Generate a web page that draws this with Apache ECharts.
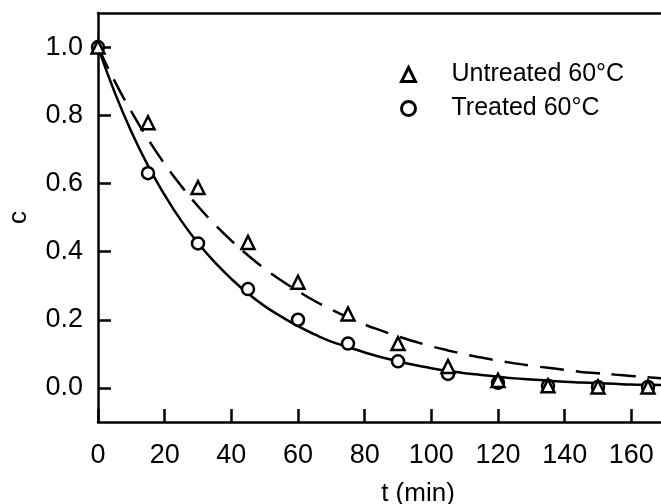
<!DOCTYPE html>
<html>
<head>
<meta charset="utf-8">
<script src="https://cdn.jsdelivr.net/npm/echarts@6/dist/echarts.min.js"></script>
<style>
  html, body { margin: 0; padding: 0; background: #fff; }
  #chart { width: 661px; height: 504px; }
</style>
</head>
<body>
<div id="chart"></div>
<script>
// measured points
var tPoints = [0, 15, 30, 45, 60, 75, 90, 105, 120, 135, 150, 165];
var untreated = [1.0, 0.778, 0.588, 0.427, 0.31, 0.217, 0.13, 0.063, 0.022, 0.006, 0.003, 0.003];
var treated = [1.0, 0.63, 0.424, 0.29, 0.2, 0.13, 0.078, 0.041, 0.015, 0.006, 0.003, 0.003];

// fitted curves, every 5 min
var tFit = [0, 5, 10, 15, 20, 25, 30, 35, 40, 45, 50, 55, 60, 65, 70, 75, 80, 85,
  90, 95, 100, 105, 110, 115, 120, 125, 130, 135, 140, 145, 150, 155, 160, 165, 170];
var untreatedFit = [1.0, 0.9, 0.811, 0.73, 0.657, 0.592, 0.533, 0.48, 0.432, 0.389, 0.35,
  0.315, 0.284, 0.255, 0.23, 0.207, 0.186, 0.168, 0.151, 0.136, 0.122, 0.11, 0.099, 0.089,
  0.08, 0.072, 0.065, 0.059, 0.053, 0.047, 0.043, 0.039, 0.035, 0.031, 0.028];
var treatedFit = [1.0, 0.867, 0.752, 0.652, 0.566, 0.49, 0.425, 0.369, 0.32, 0.277, 0.24,
  0.209, 0.181, 0.157, 0.136, 0.12, 0.104, 0.09, 0.078, 0.067, 0.058, 0.05, 0.043, 0.038,
  0.033, 0.028, 0.025, 0.021, 0.018, 0.016, 0.014, 0.012, 0.01, 0.009, 0.008];

var yTicks = [0, 0.2, 0.4, 0.6, 0.8, 1.0];
var legendNames = ['Untreated 60°C', 'Treated 60°C'];

function pairs(xs, ys) {
  var out = [];
  for (var i = 0; i < xs.length; i++) out.push([xs[i], ys[i]]);
  return out;
}

var chart = echarts.init(document.getElementById('chart'));
var font = 'Liberation Sans, Arial, sans-serif';
var markerStyle = { color: '#fff', borderColor: '#000', borderWidth: 2.5, opacity: 1 };

var option = {
  animation: false,
  backgroundColor: '#fff',
  grid: { left: 98, right: -37, top: 13, bottom: 82, containLabel: false, outerBoundsMode: 'none' },
  legend: {
    orient: 'vertical',
    left: 395,
    top: 57,
    itemGap: 9,
    itemWidth: 14,
    itemHeight: 14,
    textStyle: { fontFamily: font, fontSize: 25, color: '#000', padding: [0, 0, 0, 31] },
    data: [
      { name: legendNames[0], icon: 'triangle', itemStyle: { color: '#fff', borderColor: '#000', borderWidth: 3 } },
      { name: legendNames[1], icon: 'circle', itemStyle: { color: '#fff', borderColor: '#000', borderWidth: 3 } }
    ]
  },
  xAxis: [{
    type: 'value',
    min: 0,
    max: 180,
    interval: 20,
    splitLine: { show: false },
    axisLine: { onZero: false, lineStyle: { color: '#000', width: 2.5 } },
    axisTick: { inside: true, length: 13, lineStyle: { color: '#000', width: 2.5 } },
    axisLabel: { color: '#000', fontFamily: font, fontSize: 27, margin: 20 },
    name: 't (min)',
    nameLocation: 'middle',
    nameGap: 59,
    nameTextStyle: { color: '#000', fontFamily: font, fontSize: 26, padding: [0, 0, 0, 40] }
  }, {
    type: 'value',
    position: 'top',
    min: 0,
    max: 180,
    splitLine: { show: false },
    axisLine: { show: true, onZero: false, lineStyle: { color: '#000', width: 2.5 } },
    axisTick: { show: false },
    axisLabel: { show: false }
  }],
  yAxis: {
    type: 'value',
    min: -0.1,
    max: 1.1,
    splitLine: { show: false },
    axisLine: { show: true, onZero: false, lineStyle: { color: '#000', width: 2.5 } },
    axisTick: { inside: true, length: 13, customValues: yTicks, lineStyle: { color: '#000', width: 2.5 } },
    axisLabel: {
      color: '#000', fontFamily: font, fontSize: 27, margin: 15,
      customValues: yTicks,
      formatter: function (v) { return v.toFixed(1); }
    },
    name: 'c',
    nameLocation: 'middle',
    nameRotate: 90,
    nameGap: 66,
    nameTextStyle: { color: '#000', fontFamily: font, fontSize: 26 }
  },
  series: [
    {
      name: 'untreated fit',
      type: 'line',
      data: pairs(tFit, untreatedFit),
      smooth: true,
      showSymbol: false,
      lineStyle: { color: '#000', width: 2.5, type: [24, 12] },
      z: 2
    },
    {
      name: 'treated fit',
      type: 'line',
      data: pairs(tFit, treatedFit),
      smooth: true,
      showSymbol: false,
      lineStyle: { color: '#000', width: 2.5 },
      z: 2
    },
    {
      name: legendNames[1],
      type: 'scatter',
      symbol: 'circle',
      symbolSize: 12,
      itemStyle: markerStyle,
      data: pairs(tPoints, treated),
      z: 3
    },
    {
      name: legendNames[0],
      type: 'scatter',
      symbol: 'triangle',
      symbolSize: 13,
      itemStyle: markerStyle,
      data: pairs(tPoints, untreated),
      z: 4
    }
  ]
};

chart.setOption(option);
</script>
</body>
</html>
